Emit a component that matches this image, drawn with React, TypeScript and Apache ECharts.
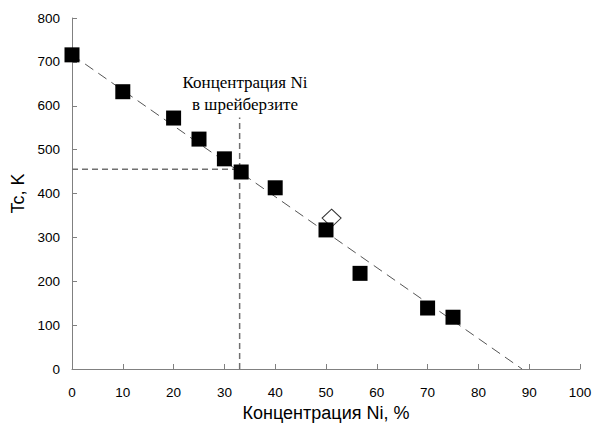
import React, { useEffect, useRef } from "react";
import * as echarts from "echarts";

const niPercent = [0, 10, 20, 25, 30, 33.3, 40, 50, 56.7, 70, 75];
const tcValues = [716, 632, 572, 524, 479, 449, 413, 317, 218, 139, 118];
const openPoint = [[51.1, 344]];
const trendLine = [[0, 716], [88.6, 0]];
const schreibersiteX = 33;
const schreibersiteY = 455;
const verticalTop = 573;
const xTicks = [0, 100, 10];
const yTicks = [0, 800, 100];

export default function App() {
  const ref = useRef<HTMLDivElement>(null);
  useEffect(() => {
    if (!ref.current) return;
    const chart = echarts.init(ref.current, null, { renderer: "svg" });
    const axisCommon = {
      axisLine: { lineStyle: { color: "#808080", width: 1 } },
      axisTick: { inside: true, length: 5, lineStyle: { color: "#808080" } },
      splitLine: { show: false },
      axisLabel: { color: "#000", fontFamily: "Liberation Sans", fontSize: 13.5 },
      nameTextStyle: { color: "#000", fontFamily: "Liberation Sans", fontSize: 18 },
    };
    chart.setOption({
      animation: false,
      backgroundColor: "#fff",
      grid: { left: 72, right: 12, top: 18, bottom: 54, containLabel: false, outerBoundsMode: "none" },
      xAxis: {
        type: "value",
        min: xTicks[0],
        max: xTicks[1],
        interval: xTicks[2],
        name: "Концентрация Ni, %",
        nameLocation: "middle",
        nameGap: 35,
        ...axisCommon,
        axisLabel: { ...axisCommon.axisLabel, margin: 16 },
      },
      yAxis: {
        type: "value",
        min: yTicks[0],
        max: yTicks[1],
        interval: yTicks[2],
        name: "Tc, K",
        nameLocation: "middle",
        nameGap: 45,
        ...axisCommon,
        axisLabel: { ...axisCommon.axisLabel, margin: 12 },
      },
      series: [
        {
          type: "line",
          data: trendLine,
          symbol: "none",
          lineStyle: { color: "#555", width: 1, type: [10, 6] },
          z: 1,
        },
        {
          type: "line",
          data: [
            [0, schreibersiteY],
            [schreibersiteX, schreibersiteY],
          ],
          symbol: "none",
          lineStyle: { color: "#707070", width: 1.5, type: [6, 4] },
          z: 1,
        },
        {
          type: "line",
          data: [
            [schreibersiteX, 0],
            [schreibersiteX, verticalTop],
          ],
          symbol: "none",
          lineStyle: { color: "#707070", width: 1.5, type: [6, 4] },
          z: 1,
        },
        {
          type: "scatter",
          data: niPercent.map((x, i) => [x, tcValues[i]]),
          symbol: "rect",
          symbolSize: 15,
          itemStyle: { color: "#000", opacity: 1 },
          z: 3,
        },
        {
          type: "scatter",
          data: openPoint,
          symbol: "diamond",
          symbolSize: [19, 18],
          itemStyle: { color: "#fff", borderColor: "#333", borderWidth: 1, opacity: 1 },
          z: 2,
        },
      ],
      graphic: [
        {
          type: "text",
          x: 245,
          y: 71,
          style: {
            text: "Концентрация Ni\nв шрейберзите",
            fontFamily: "Liberation Serif",
            fontSize: 17,
            lineHeight: 22,
            fill: "#000",
            align: "center",
            verticalAlign: "top",
          },
        },
      ],
    });
    return () => chart.dispose();
  }, []);
  return <div ref={ref} style={{ width: 592, height: 423, position: "absolute", left: 0, top: 0 }} />;
}
